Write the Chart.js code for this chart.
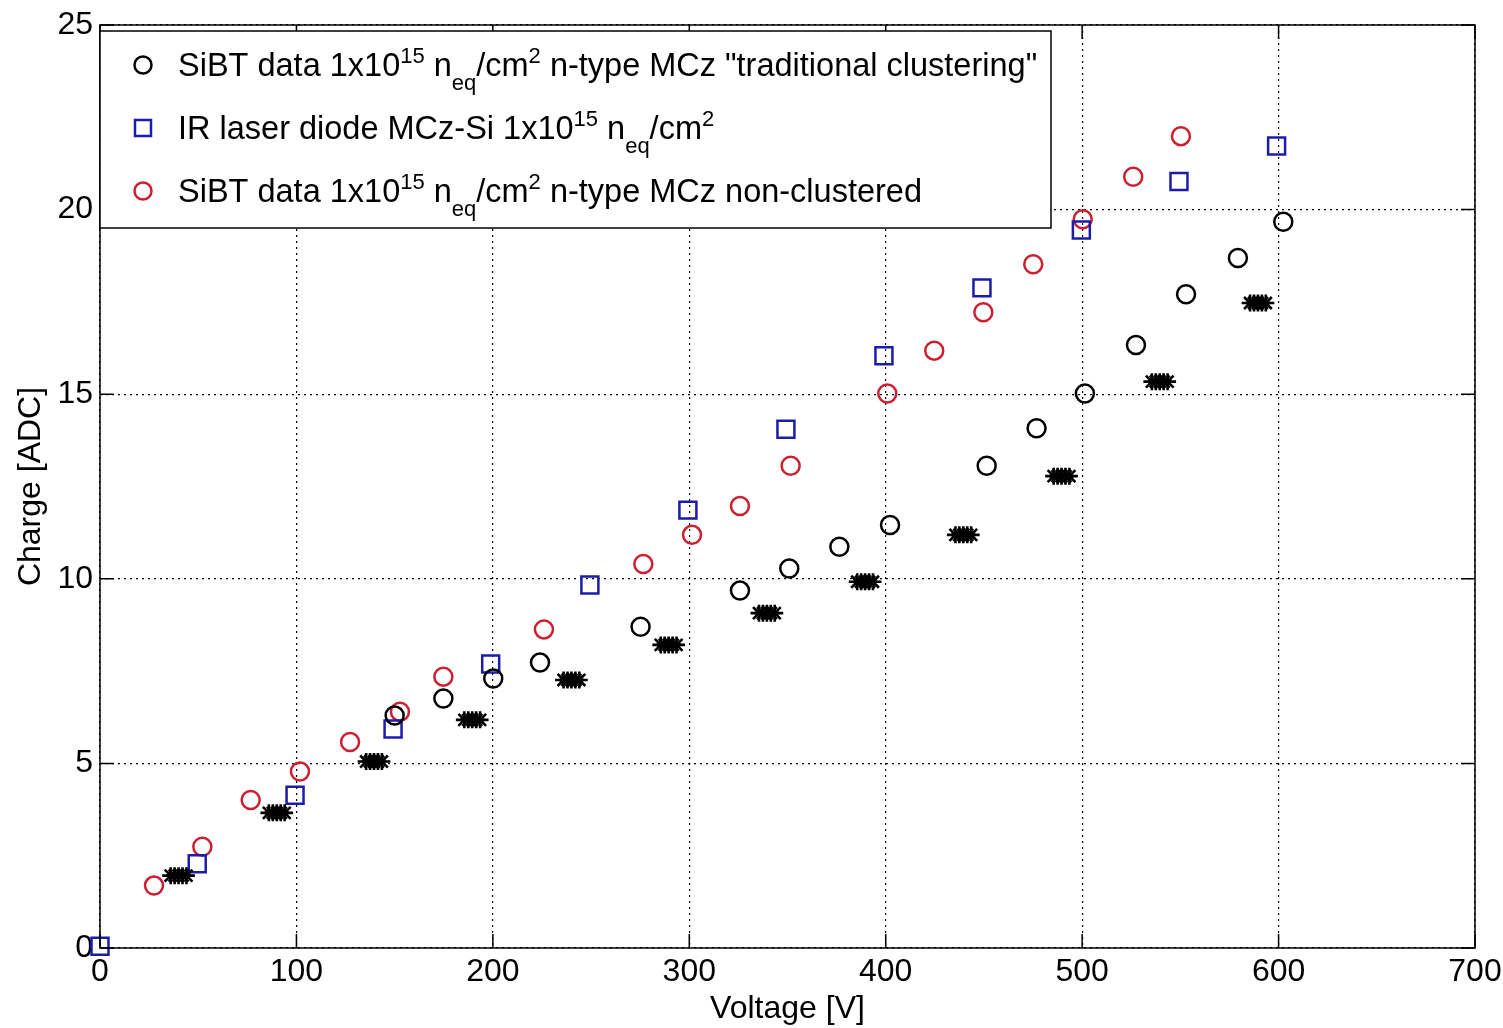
<!DOCTYPE html>
<html>
<head>
<meta charset="utf-8">
<title>Charge vs Voltage</title>
<script src="https://cdn.jsdelivr.net/npm/chart.js@4.4.1/dist/chart.umd.min.js"></script>
<style>
    html, body { margin: 0; padding: 0; background: #fff; }
    #wrap { width: 1503px; height: 1028px; }
</style>
</head>
<body>
<div id="wrap"><canvas id="chart" width="1503" height="1028"></canvas></div>
<script>
// SiBT data, "traditional clustering" (black circles)
const tradV = [150, 174.8, 200.2, 224, 275.2, 325.8, 350.9, 376.4, 402.2, 451.4, 476.8, 501.4, 527.4, 552.9, 579.3, 602.4];
const tradQ = [6.30, 6.76, 7.30, 7.73, 8.70, 9.68, 10.28, 10.87, 11.46, 13.06, 14.08, 15.02, 16.33, 17.71, 18.69, 19.67];

// IR laser diode (blue squares)
const laserV = [0, 49.5, 99.3, 149.2, 198.9, 249.4, 299.3, 349.2, 399.1, 449, 499.6, 549.3, 599];
const laserQ = [0.05, 2.28, 4.14, 5.93, 7.69, 9.83, 11.86, 14.05, 16.04, 17.88, 19.45, 20.76, 21.72];

// SiBT data, non-clustered (red circles)
const nonClV = [27.5, 52.1, 76.7, 101.8, 127.3, 152.7, 174.8, 226, 276.6, 301.4, 325.8, 351.6, 400.8, 424.7, 449.7, 475.1, 500.3, 526, 550.3];
const nonClQ = [1.69, 2.74, 4.01, 4.78, 5.58, 6.40, 7.35, 8.63, 10.40, 11.19, 11.97, 13.06, 15.02, 16.18, 17.22, 18.52, 19.74, 20.89, 21.99];

// unlabelled asterisk clusters (several overlapping runs per voltage step)
const starV = [
    36, 38, 40, 42, 44,
    86, 88, 90, 92, 94,
    135.5, 137.5, 139.5, 141.5, 143.5,
    185.5, 187.5, 189.5, 191.5, 193.5,
    236, 238, 240, 242, 244,
    285.5, 287.5, 289.5, 291.5, 293.5,
    335.5, 337.5, 339.5, 341.5, 343.5,
    385.5, 387.5, 389.5, 391.5, 393.5,
    435.5, 437.5, 439.5, 441.5, 443.5,
    485.5, 487.5, 489.5, 491.5, 493.5,
    535.5, 537.5, 539.5, 541.5, 543.5,
    585.5, 587.5, 589.5, 591.5, 593.5
];
const starQ = [
    1.96, 1.96, 1.96, 1.96, 1.96,
    3.66, 3.66, 3.66, 3.66, 3.66,
    5.05, 5.05, 5.05, 5.05, 5.05,
    6.18, 6.18, 6.18, 6.18, 6.18,
    7.26, 7.26, 7.26, 7.26, 7.26,
    8.21, 8.21, 8.21, 8.21, 8.21,
    9.07, 9.07, 9.07, 9.07, 9.07,
    9.92, 9.92, 9.92, 9.92, 9.92,
    11.19, 11.19, 11.19, 11.19, 11.19,
    12.78, 12.78, 12.78, 12.78, 12.78,
    15.34, 15.34, 15.34, 15.34, 15.34,
    17.47, 17.47, 17.47, 17.47, 17.47
];

const xTicks = [0, 100, 200, 300, 400, 500, 600, 700];
const yTicks = [0, 5, 10, 15, 20, 25];

const BLUE = '#1c1caa';
const RED = '#cc2030';
const FONT = '"Liberation Sans", Arial, sans-serif';

// legend rows: pieces of rich text (sup / sub for the exponents)
const legendRows = [
    { marker: 'circle', color: '#000', parts: [
        { t: 'SiBT data 1x10' }, { t: '15', s: 'sup' }, { t: ' n' }, { t: 'eq', s: 'sub' },
        { t: '/cm' }, { t: '2', s: 'sup' }, { t: ' n-type MCz "traditional clustering"' }] },
    { marker: 'rect', color: BLUE, parts: [
        { t: 'IR laser diode MCz-Si 1x10' }, { t: '15', s: 'sup' }, { t: ' n' }, { t: 'eq', s: 'sub' },
        { t: '/cm' }, { t: '2', s: 'sup' }] },
    { marker: 'circle', color: RED, parts: [
        { t: 'SiBT data 1x10' }, { t: '15', s: 'sup' }, { t: ' n' }, { t: 'eq', s: 'sub' },
        { t: '/cm' }, { t: '2', s: 'sup' }, { t: ' n-type MCz non-clustered' }] }
];

const pts = (xs, ys) => xs.map((x, i) => ({ x: x, y: ys[i] }));

// box round the axes + MATLAB style inward tick marks
const framePlugin = {
    id: 'frame',
    afterDatasetsDraw(chart) {
        const { ctx, chartArea: a, scales } = chart;
        const len = 14;
        ctx.save();
        ctx.strokeStyle = '#000';
        ctx.lineWidth = 1.5;
        ctx.strokeRect(a.left, a.top, a.right - a.left, a.bottom - a.top);
        ctx.beginPath();
        xTicks.forEach(v => {
            const px = scales.x.getPixelForValue(v);
            ctx.moveTo(px, a.bottom); ctx.lineTo(px, a.bottom - len);
            ctx.moveTo(px, a.top); ctx.lineTo(px, a.top + len);
        });
        yTicks.forEach(v => {
            const py = scales.y.getPixelForValue(v);
            ctx.moveTo(a.left, py); ctx.lineTo(a.left + len, py);
            ctx.moveTo(a.right, py); ctx.lineTo(a.right - len, py);
        });
        ctx.stroke();
        ctx.restore();
    }
};

function drawRich(ctx, parts, x, y) {
    parts.forEach(p => {
        const size = p.s ? 22 : 32.5;
        ctx.font = size + 'px ' + FONT;
        const dy = p.s === 'sup' ? -13 : (p.s === 'sub' ? 14 : 0);
        ctx.fillText(p.t, x, y + dy);
        x += ctx.measureText(p.t).width;
    });
}

// legend box drawn by hand because of the super/subscripts
const legendPlugin = {
    id: 'richLegend',
    afterDraw(chart) {
        const { ctx, chartArea: a } = chart;
        const box = { x: a.left, y: 31, w: 951, h: 197 };
        ctx.save();
        ctx.fillStyle = '#fff';
        ctx.fillRect(box.x, box.y, box.w, box.h);
        ctx.strokeStyle = '#000';
        ctx.lineWidth = 1.5;
        ctx.strokeRect(box.x, box.y, box.w, box.h);
        ctx.textBaseline = 'alphabetic';
        legendRows.forEach((row, i) => {
            const base = 76 + i * 63;
            const my = base - 11;
            ctx.strokeStyle = row.color;
            ctx.lineWidth = 2.5;
            ctx.beginPath();
            if (row.marker === 'circle') {
                ctx.arc(143, my, 8.5, 0, Math.PI * 2);
            } else {
                ctx.rect(135, my - 8, 16, 16);
            }
            ctx.stroke();
            ctx.fillStyle = '#000';
            drawRich(ctx, row.parts, 178, base);
        });
        ctx.restore();
    }
};

const axisFont = { family: FONT, size: 32 };

new Chart(document.getElementById('chart').getContext('2d'), {
    type: 'scatter',
    data: {
        datasets: [
            {
                label: 'clusters',
                data: pts(starV, starQ),
                pointStyle: 'star',
                pointRadius: 8.5,
                borderColor: '#000',
                borderWidth: 2.6,
                clip: false
            },
            {
                label: 'SiBT traditional clustering',
                data: pts(tradV, tradQ),
                pointStyle: 'circle',
                pointRadius: 9,
                backgroundColor: 'rgba(0,0,0,0)',
                borderColor: '#000',
                borderWidth: 2.5,
                clip: false
            },
            {
                label: 'IR laser diode',
                data: pts(laserV, laserQ),
                pointStyle: 'rect',
                pointRadius: 12,
                backgroundColor: 'rgba(0,0,0,0)',
                borderColor: BLUE,
                borderWidth: 2.5,
                clip: false
            },
            {
                label: 'SiBT non-clustered',
                data: pts(nonClV, nonClQ),
                pointStyle: 'circle',
                pointRadius: 9,
                backgroundColor: 'rgba(0,0,0,0)',
                borderColor: RED,
                borderWidth: 2.5,
                clip: false
            }
        ]
    },
    options: {
        responsive: false,
        animation: false,
        layout: { padding: { left: 0, right: 28, top: 25, bottom: 0 } },
        plugins: {
            legend: { display: false },
            tooltip: { enabled: false }
        },
        scales: {
            x: {
                type: 'linear',
                min: 0,
                max: 700,
                afterBuildTicks: (s) => { s.ticks = xTicks.map(v => ({ value: v })); },
                afterFit: (s) => { s.height = 80; s.paddingLeft = 0; s.paddingRight = 0; },
                ticks: { color: '#000', font: axisFont, padding: 5, maxRotation: 0, autoSkip: false },
                grid: { color: '#000', lineWidth: 1.2, drawTicks: false },
                border: { display: false, dash: [2, 4] },
                title: { display: true, text: 'Voltage [V]', color: '#000', font: axisFont, padding: { top: 0, bottom: 0 } }
            },
            y: {
                type: 'linear',
                min: 0,
                max: 25,
                afterBuildTicks: (s) => { s.ticks = yTicks.map(v => ({ value: v })); },
                afterFit: (s) => { s.width = 100; s.paddingTop = 0; s.paddingBottom = 0; },
                ticks: { color: '#000', font: axisFont, padding: 7, autoSkip: false },
                grid: { color: '#000', lineWidth: 1.2, drawTicks: false },
                border: { display: false, dash: [2, 4] },
                title: { display: true, text: 'Charge [ADC]', color: '#000', font: axisFont, padding: { top: 12, bottom: 0 } }
            }
        }
    },
    plugins: [framePlugin, legendPlugin]
});
</script>
</body>
</html>
